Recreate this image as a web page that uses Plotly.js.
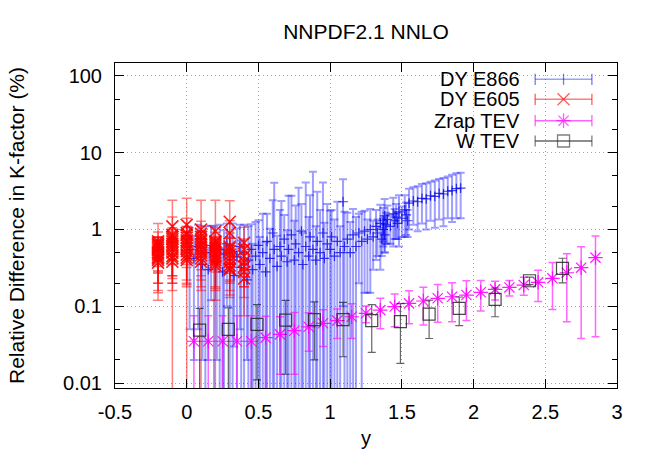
<!DOCTYPE html>
<html><head><meta charset="utf-8">
<script src="https://cdn.plot.ly/plotly-3.0.1.min.js"></script>
<style>html,body{margin:0;padding:0;background:#fff}#chart{width:654px;height:458px}</style>
</head><body><div id="chart"></div>
<script>
// ---------------- data ----------------
const seriesNames = ["DY E866", "DY E605", "Zrap TEV", "W TEV"];

const e866X = [0.02,0.05,0.08,0.11,0.13,0.15,0.17,0.19,0.21,0.23,0.25,0.26,0.28,0.30,0.32,0.33,0.35,0.37,0.38,0.40,
  0.42,0.43,0.45,0.46,0.48,0.50,0.51,0.53,0.55,0.56,0.58,0.60,0.61,0.63,0.65,0.66,0.68,0.70,0.71,0.73,
  0.75,0.76,0.78,0.80,0.81,0.83,0.85,0.86,0.88,0.90,0.91,0.93,0.95,0.96,0.98,1.00,1.01,1.03,1.05,1.07,
  1.09,1.10,1.12,1.14,1.16,1.18,1.20,1.22,1.24,1.26,1.28,1.30,1.32,1.33,1.35,1.36,1.37,1.37,1.38,1.38,
  1.39,1.40,1.42,1.44,1.45,1.46,1.47,1.48,1.50,1.52,1.53,1.54,
  1.55,1.58,1.61,1.64,1.67,1.70,1.73,1.76,1.79,1.82,1.85,1.88,1.91];
const e866Y = [0.55,0.42,0.60,0.35,0.50,0.30,0.62,0.45,0.38,0.55,0.28,0.48,0.65,0.35,0.52,0.25,0.44,0.60,0.32,0.50,
  0.22,0.40,0.55,0.30,0.45,0.62,0.35,0.50,0.28,0.70,0.42,0.90,0.55,0.33,0.60,0.45,0.75,0.38,0.55,0.85,
  0.40,0.65,0.50,0.95,0.35,0.60,0.45,0.80,0.55,0.40,0.70,0.50,0.90,0.42,0.65,0.55,0.80,0.45,0.70,0.50,
  2.30,0.60,0.75,0.50,0.85,0.60,0.90,0.70,0.95,0.75,1.00,0.80,1.10,0.90,1.20,0.75,1.30,1.00,0.85,1.50,
  1.15,1.35,1.10,1.60,1.30,1.45,1.20,1.70,1.40,1.80,1.55,1.30,
  2.20,2.35,2.30,2.55,2.50,2.75,2.70,2.95,2.90,3.15,3.20,3.40,3.45];
const e866Err = [0.50,0.40,0.55,0.33,0.60,0.28,0.50,0.65,0.36,0.60,0.30,0.50,0.55,0.45,0.68,0.22,0.60,0.55,0.40,0.65,
  0.20,0.70,0.62,0.35,0.80,0.70,0.45,1.10,0.40,0.90,0.60,1.50,3.50,0.50,1.20,1.90,0.80,0.60,2.20,1.90,
  0.90,1.40,3.00,1.20,0.55,3.50,1.00,2.00,5.10,0.70,2.40,1.30,3.20,0.80,1.50,1.20,1.00,0.90,1.60,0.60,
  2.20,1.10,0.90,0.75,1.00,0.85,0.70,1.00,0.80,0.60,0.85,0.50,0.70,0.45,0.90,0.30,0.60,0.40,0.35,1.00,
  0.50,0.70,0.45,1.00,0.55,0.70,0.45,1.10,0.60,1.00,0.70,0.50,
  1.20,1.20,1.35,1.35,1.50,1.45,1.65,1.60,1.80,1.75,1.95,2.00,2.05];

const e605Cols = [-0.2, -0.1, 0.0, 0.1, 0.2, 0.3, 0.4];
const e605Vals = [
  [0.70,0.66,0.63,0.60,0.57,0.54,0.50,0.47,0.44,0.42,0.40,0.37],
  [1.10,0.85,0.80,0.75,0.70,0.65,0.60,0.55,0.50,0.45,0.42,0.38],
  [1.15,0.90,0.85,0.78,0.72,0.68,0.62,0.57,0.52,0.47,0.43,0.40],
  [1.00,0.88,0.80,0.74,0.70,0.64,0.60,0.55,0.50,0.46,0.42,0.38],
  [0.95,0.70,0.66,0.62,0.58,0.55,0.50,0.46,0.43,0.40,0.37,0.34],
  [1.26,0.90,0.60,0.57,0.52,0.47,0.42,0.38,0.34,0.31,0.30],
  [0.67,0.55,0.45,0.38,0.33,0.28,0.23]
];
const e605Errs = [
  [0.50,0.12,0.30,0.20,0.15,0.25,0.30,0.20,0.28,0.30,0.12,0.22],
  [1.30,0.60,0.20,0.30,0.15,0.25,0.35,0.20,0.30,0.25,0.26,0.15],
  [1.40,0.50,0.25,0.30,0.20,0.15,0.30,0.22,0.30,0.28,0.25,0.20],
  [1.40,0.40,0.30,0.20,0.25,0.15,0.30,0.20,0.25,0.30,0.20,0.20],
  [1.45,0.35,0.15,0.30,0.20,0.25,0.15,0.30,0.25,0.12,0.20,0.22],
  [1.10,0.40,0.30,0.20,0.25,0.15,0.20,0.18,0.20,0.10,0.17],
  [0.40,0.20,0.15,0.25,0.15,0.10,0.155]
];

const zrapX = [0.05,0.15,0.25,0.35,0.45,0.55,0.65,0.75,0.85,0.95,1.05,1.15,1.25,1.35,1.45,1.55,1.65,1.75,1.85,1.95,
  2.05,2.15,2.25,2.35,2.45,2.55,2.65,2.75,2.85];
const zrapY = [0.035,0.035,0.035,0.035,0.035,0.039,0.043,0.048,0.054,0.060,0.065,0.073,0.081,0.089,0.099,0.109,0.117,0.127,0.133,0.140,
  0.152,0.166,0.176,0.189,0.205,0.231,0.273,0.318,0.430];
const zrapErr = [0.040,0.040,0.040,0.040,0.040,0.035,0.030,0.035,0.028,0.030,0.027,0.035,0.020,0.038,0.045,0.050,0.060,0.065,0.070,0.075,
  0.065,0.045,0.040,0.050,0.090,0.140,0.210,0.280,0.390];

const wX = [0.09,0.29,0.49,0.69,0.89,1.09,1.29,1.49,1.69,1.90,2.15,2.39,2.62];
const wY = [0.049,0.050,0.058,0.066,0.067,0.067,0.065,0.063,0.079,0.094,0.123,0.215,0.312];
const wErr = [0.045,0.045,0.047,0.053,0.047,0.045,0.040,0.045,0.041,0.038,0.050,0.024,0.110];

const xTickVals = [-0.5,0,0.5,1,1.5,2,2.5,3];
const xTickText = ["-0.5","0","0.5","1","1.5","2","2.5","3"];
const yTickVals = [0.01,0.1,1,10,100];
const yTickText = ["0.01","0.1","1","10","100"];
const yMinorVals = [0.02,0.05,0.2,0.5,2,5,20,50];

// ---------------- styles ----------------
const colors = {
  e866: {bar:'rgba(0,0,255,0.38)', mk:'rgba(0,0,230,0.75)'},
  e605: {bar:'rgba(255,0,0,0.5)', mk:'rgba(255,0,0,0.9)'},
  zrap: {bar:'rgba(255,0,255,0.6)', mk:'rgba(255,0,255,0.9)'},
  w:    {bar:'rgba(0,0,0,0.6)', mk:'rgba(40,40,40,0.85)'}
};

// flatten E605 columns
const e605X = [], e605Y = [], e605Err = [];
e605Cols.forEach((c, i) => {
  e605Vals[i].forEach((v, j) => { e605X.push(c); e605Y.push(v); e605Err.push(e605Errs[i][j]); });
});

const traces = [
  {type:'scatter', mode:'markers', name:seriesNames[0], x:e866X, y:e866Y,
   error_y:{type:'data', array:e866Err, color:colors.e866.bar, thickness:2, width:4},
   marker:{symbol:'cross-thin-open', size:7, color:colors.e866.mk, line:{width:1.2, color:colors.e866.mk}}},
  {type:'scatter', mode:'markers', name:seriesNames[1], x:e605X, y:e605Y,
   error_y:{type:'data', array:e605Err, color:colors.e605.bar, thickness:1.5, width:5},
   marker:{symbol:'x-thin-open', size:12, color:colors.e605.mk, line:{width:1.6, color:colors.e605.mk}}},
  {type:'scatter', mode:'markers', name:seriesNames[2], x:zrapX, y:zrapY,
   error_y:{type:'data', array:zrapErr, color:colors.zrap.bar, thickness:1.5, width:4},
   marker:{symbol:'asterisk-open', size:12, color:colors.zrap.mk, line:{width:1.2, color:colors.zrap.mk}}},
  {type:'scatter', mode:'markers', name:seriesNames[3], x:wX, y:wY,
   error_y:{type:'data', array:wErr, color:colors.w.bar, thickness:1.2, width:4},
   marker:{symbol:'square-open', size:12, color:colors.w.mk, line:{width:1.2, color:colors.w.mk}}}
];

// ---------------- custom gnuplot-style key (text left, sample right) ----------------
const keyRowY = [0.9498, 0.8883, 0.8225, 0.760];
const keySampleX = 0.8935, keySampleHalf = 0.0565, keyTextX = 0.8102;
const keyStyles = [
  {c:colors.e866, sym:'line-ns-open', size:8},
  {c:colors.e605, sym:'x-thin-open', size:12},
  {c:colors.zrap, sym:'asterisk-open', size:12},
  {c:colors.w, sym:'square-open', size:12}
];
keyStyles.forEach((s, i) => {
  traces.push({type:'scatter', mode:'lines+markers', xaxis:'x2', yaxis:'y2', hoverinfo:'skip', showlegend:false,
    x:[keySampleX - keySampleHalf, keySampleX, keySampleX + keySampleHalf], y:[keyRowY[i], keyRowY[i], keyRowY[i]],
    line:{color:s.c.bar, width:1.5},
    marker:{symbol:['line-ns-open', s.sym, 'line-ns-open'], size:[8, s.size, 8], color:s.c.mk, line:{width:1.3, color:s.c.mk}}});
});
const annotations = seriesNames.map((n, i) => ({xref:'paper', yref:'paper', x:keyTextX, y:keyRowY[i],
  xanchor:'right', yanchor:'middle', text:n, showarrow:false, font:{size:20, color:'#000'}}));

const axisCommon = {ticks:'inside', tickcolor:'#000', tickwidth:1, ticklen:9, showline:true, linecolor:'#000', linewidth:1,
  mirror:'allticks', showgrid:true, gridcolor:'#a8a8a8', griddash:'1px,3px', gridwidth:1, zeroline:false, tickmode:'array'};

const layout = {
  width:654, height:458,
  margin:{l:115, r:37, t:63, b:70},
  paper_bgcolor:'#fff', plot_bgcolor:'#fff',
  font:{family:'Liberation Sans, Arial, sans-serif', size:20, color:'#000'},
  title:{text:'NNPDF2.1 NNLO', xref:'container', x:366/654, xanchor:'center', yref:'container', y:1-32/458, yanchor:'middle', font:{size:21}},
  showlegend:false,
  xaxis:Object.assign({}, axisCommon, {range:[-0.5,3], tickvals:xTickVals, ticktext:xTickText, ticklabelstandoff:6,
    title:{text:'y', standoff:8, font:{size:20}}}),
  yaxis:Object.assign({}, axisCommon, {type:'log', range:[-2.065, 2.169], tickvals:yTickVals, ticktext:yTickText, ticklabelstandoff:8,
    minor:{tickmode:'array', tickvals:yMinorVals, ticks:'inside', ticklen:5, tickcolor:'#000', showgrid:false},
    title:{text:'Relative Difference in K-factor (%)', standoff:32, font:{size:21}}}),
  xaxis2:{overlaying:'x', range:[0,1], visible:false, fixedrange:true},
  yaxis2:{overlaying:'y', range:[0,1], visible:false, fixedrange:true},
  shapes:[{type:'rect', xref:'paper', yref:'paper', x0:(420-115)/502, x1:(604-115)/502, y0:(388-151)/325, y1:(388-64)/325,
    fillcolor:'#fff', line:{width:0}, layer:'between'}],
  annotations:annotations
};

Plotly.newPlot('chart', traces, layout, {displayModeBar:false, staticPlot:true});
</script>
</body></html>
